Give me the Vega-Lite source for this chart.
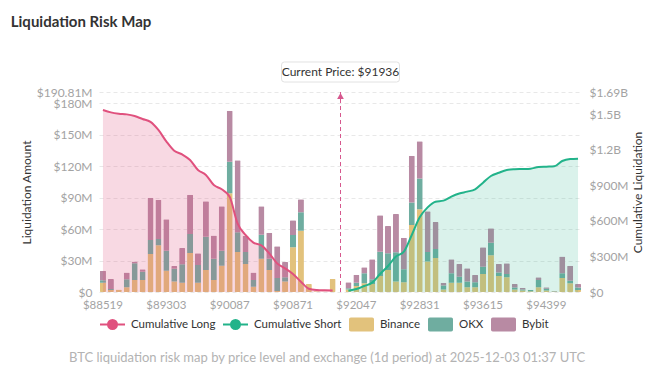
{
  "$schema": "https://vega.github.io/schema/vega-lite/v6.json",
  "background": "#ffffff",
  "padding": {"left": 10, "top": 14, "right": 12, "bottom": 16},
  "config": {
    "font": "Lato",
    "view": {"stroke": null},
    "axis": {"labelFont": "Lato", "titleFont": "Lato", "labelColor": "#a3a3a3", "labelFontSize": 12, "titleFontSize": 12, "titleColor": "#333333", "titleFontWeight": "normal", "ticks": false, "domain": false},
    "legend": {"orient": "bottom", "direction": "horizontal", "title": null, "labelFontSize": 11.5, "labelColor": "#333333", "labelFont": "Lato", "symbolSize": 625, "columnPadding": 3, "labelOffset": 5, "offset": 0, "padding": 0, "gridAlign": "none"}
  },
  "title": {"text": "BTC liquidation risk map by price level and exchange (1d period) at 2025-12-03 01:37 UTC", "orient": "bottom", "anchor": "middle", "fontSize": 13, "fontWeight": "normal", "color": "#b3b3b3", "font": "Lato", "offset": 16},
  "datasets": {
    "ranks": [
      {"exchange": "Binance", "rank": 1},
      {"exchange": "OKX", "rank": 2},
      {"exchange": "Bybit", "rank": 3}
    ],
    "liq": [
      {"p": "$88519", "Binance": 8.9, "OKX": 2.2, "Bybit": 9.2, "long": 1538},
      {"p": "$88617", "Binance": 1.9, "OKX": 1.0, "Bybit": 9.5, "long": 1518},
      {"p": "$88715", "Binance": 2.5, "OKX": 0, "Bybit": 0, "long": 1507},
      {"p": "$88813", "Binance": 4.5, "OKX": 7.6, "Bybit": 6.4, "long": 1501},
      {"p": "$88911", "Binance": 11.4, "OKX": 16.0, "Bybit": 1.6, "long": 1487},
      {"p": "$89009", "Binance": 11.4, "OKX": 8.0, "Bybit": 2.2, "long": 1462},
      {"p": "$89107", "Binance": 36.2, "OKX": 13.4, "Bybit": 40.4, "long": 1437},
      {"p": "$89205", "Binance": 44.5, "OKX": 6.0, "Bybit": 37.5, "long": 1369},
      {"p": "$89303", "Binance": 20.3, "OKX": 19.0, "Bybit": 30.2, "long": 1273},
      {"p": "$89401", "Binance": 9.9, "OKX": 12.4, "Bybit": 2.5, "long": 1194},
      {"p": "$89499", "Binance": 8.9, "OKX": 17.5, "Bybit": 15.6, "long": 1163},
      {"p": "$89597", "Binance": 37.2, "OKX": 18.1, "Bybit": 37.5, "long": 1115},
      {"p": "$89695", "Binance": 8.9, "OKX": 16.9, "Bybit": 11.1, "long": 1031},
      {"p": "$89793", "Binance": 21.0, "OKX": 31.8, "Bybit": 33.7, "long": 989},
      {"p": "$89891", "Binance": 11.4, "OKX": 20.3, "Bybit": 22.3, "long": 904},
      {"p": "$89989", "Binance": 25.0, "OKX": 14.3, "Bybit": 42.6, "long": 868},
      {"p": "$90087", "Binance": 94.1, "OKX": 30.2, "Bybit": 48.6, "long": 805},
      {"p": "$90185", "Binance": 38.2, "OKX": 18.8, "Bybit": 68.7, "long": 580},
      {"p": "$90283", "Binance": 26.7, "OKX": 11.4, "Bybit": 15.3, "long": 482},
      {"p": "$90381", "Binance": 5.1, "OKX": 6.4, "Bybit": 7.0, "long": 417},
      {"p": "$90479", "Binance": 31.8, "OKX": 22.9, "Bybit": 27.0, "long": 394},
      {"p": "$90577", "Binance": 21.0, "OKX": 10.8, "Bybit": 24.8, "long": 327},
      {"p": "$90675", "Binance": 1.0, "OKX": 12.4, "Bybit": 30.2, "long": 242},
      {"p": "$90773", "Binance": 9.9, "OKX": 4.1, "Bybit": 14.6, "long": 200},
      {"p": "$90871", "Binance": 42.6, "OKX": 11.8, "Bybit": 14.0, "long": 152},
      {"p": "$90969", "Binance": 58.5, "OKX": 17.5, "Bybit": 12.4, "long": 87},
      {"p": "$91067", "Binance": 7.6, "OKX": 0, "Bybit": 0, "long": 28},
      {"p": "$91165", "Binance": 0.8, "OKX": 0, "Bybit": 0, "long": 17},
      {"p": "$91263", "Binance": 0.5, "OKX": 0, "Bybit": 0, "long": 14},
      {"p": "$91361", "Binance": 12.4, "OKX": 0, "Bybit": 0, "long": 13},
      {"p": "$91936", "Binance": 0, "OKX": 0, "Bybit": 0},
      {"p": "$91949", "Binance": 2.5, "OKX": 1.0, "Bybit": 5.7, "short": 11},
      {"p": "$92047", "Binance": 5.7, "OKX": 3.2, "Bybit": 7.6, "short": 25},
      {"p": "$92145", "Binance": 8.3, "OKX": 9.5, "Bybit": 5.7, "short": 51},
      {"p": "$92243", "Binance": 7.6, "OKX": 4.5, "Bybit": 19.1, "short": 79},
      {"p": "$92341", "Binance": 15.3, "OKX": 23.2, "Bybit": 34.7, "short": 152},
      {"p": "$92439", "Binance": 21.0, "OKX": 15.9, "Bybit": 26.0, "short": 220},
      {"p": "$92537", "Binance": 9.9, "OKX": 28.0, "Bybit": 36.6, "short": 299},
      {"p": "$92635", "Binance": 9.2, "OKX": 12.4, "Bybit": 30.2, "short": 341},
      {"p": "$92733", "Binance": 63.9, "OKX": 21.6, "Bybit": 44.5, "short": 482},
      {"p": "$92831", "Binance": 78.9, "OKX": 29.3, "Bybit": 35.6, "short": 631},
      {"p": "$92929", "Binance": 29.0, "OKX": 9.2, "Bybit": 38.8, "short": 715},
      {"p": "$93027", "Binance": 32.4, "OKX": 8.6, "Bybit": 25.8, "short": 763},
      {"p": "$93125", "Binance": 2.5, "OKX": 3.8, "Bybit": 2.5, "short": 772},
      {"p": "$93223", "Binance": 8.9, "OKX": 8.9, "Bybit": 13.4, "short": 806},
      {"p": "$93321", "Binance": 8.9, "OKX": 5.7, "Bybit": 12.1, "short": 832},
      {"p": "$93419", "Binance": 4.5, "OKX": 5.4, "Bybit": 12.7, "short": 848},
      {"p": "$93517", "Binance": 4.5, "OKX": 4.8, "Bybit": 7.0, "short": 868},
      {"p": "$93615", "Binance": 17.2, "OKX": 7.0, "Bybit": 18.4, "short": 924},
      {"p": "$93713", "Binance": 35.0, "OKX": 12.1, "Bybit": 13.7, "short": 980},
      {"p": "$93811", "Binance": 15.3, "OKX": 3.2, "Bybit": 8.3, "short": 1008},
      {"p": "$93909", "Binance": 14.0, "OKX": 3.2, "Bybit": 10.2, "short": 1031},
      {"p": "$94007", "Binance": 2.5, "OKX": 1.9, "Bybit": 3.2, "short": 1037},
      {"p": "$94105", "Binance": 1.5, "OKX": 1.0, "Bybit": 1.6, "short": 1039},
      {"p": "$94203", "Binance": 0.7, "OKX": 1.5, "Bybit": 0, "short": 1042},
      {"p": "$94301", "Binance": 4.5, "OKX": 7.0, "Bybit": 2.5, "short": 1056},
      {"p": "$94399", "Binance": 1.5, "OKX": 1.5, "Bybit": 1.5, "short": 1059},
      {"p": "$94497", "Binance": 0.5, "OKX": 0.3, "Bybit": 0.2, "short": 1062},
      {"p": "$94595", "Binance": 13.4, "OKX": 4.5, "Bybit": 15.9, "short": 1107},
      {"p": "$94693", "Binance": 8.3, "OKX": 2.5, "Bybit": 14.3, "short": 1124},
      {"p": "$94791", "Binance": 1.9, "OKX": 2.5, "Bybit": 3.2, "short": 1127}
    ]
  },
  "vconcat": [
    {
      "title": {"text": "Liquidation Risk Map", "anchor": "start", "frame": "bounds", "fontSize": 15, "fontWeight": "bold", "color": "#333333", "font": "Lato", "offset": 30, "dx": -10},
      "width": 483,
      "height": 200,
      "data": {"name": "liq"},
      "layer": [
        {
          "layer": [
            {
              "transform": [
                {"fold": ["Binance", "OKX", "Bybit"], "as": ["exchange", "amount"]},
                {"lookup": "exchange", "from": {"data": {"name": "ranks"}, "key": "exchange", "fields": ["rank"]}}
              ],
              "mark": {"type": "bar", "cornerRadius": 1},
              "encoding": {
                "x": {"field": "p", "type": "ordinal", "scale": {"paddingInner": 0.24, "paddingOuter": 0.12},
                  "axis": {"title": null, "values": ["$88519", "$89303", "$90087", "$90871", "$92047", "$92831", "$93615", "$94399"], "labelAngle": 0, "labelPadding": 7, "labelFontSize": 11.5, "grid": false}},
                "y": {"field": "amount", "type": "quantitative", "stack": "zero", "scale": {"domain": [0, 190.81], "nice": false},
                  "axis": {"title": "Liquidation Amount", "values": [0, 30, 60, 90, 120, 150, 180, 190.81], "tickCount": 20, "labelExpr": "datum.value === 0 ? '$0' : '$' + datum.value + 'M'", "labelOverlap": false, "labelFlush": false, "labelPadding": 7, "titlePadding": 2.5, "grid": true, "gridDash": [4, 3], "gridColor": "#e8e8e8"}},
                "order": {"field": "rank", "type": "quantitative", "sort": "ascending"},
                "color": {"field": "exchange", "type": "nominal",
                  "scale": {"domain": ["Cumulative Long", "Cumulative Short", "Binance", "OKX", "Bybit"], "range": ["#e0517e", "#22b38a", "#e2c27c", "#6fada0", "#b88aa3"]},
                  "legend": {"encode": {"symbols": {"update": {
                    "shape": {"signal": "indexof(datum.value, 'Cumulative') === 0 ? 'M-1,0H-0.36M0.36,0H1M-0.36,0A0.36,0.36,0,1,1,0.36,0A0.36,0.36,0,1,1,-0.36,0Z' : 'M-0.86,-0.56H0.86Q1,-0.56,1,-0.42V0.42Q1,0.56,0.86,0.56H-0.86Q-1,0.56,-1,0.42V-0.42Q-1,-0.56,-0.86,-0.56Z'"},
                    "fill": {"signal": "indexof(datum.value, 'Cumulative') === 0 ? '#ffffff' : scale('color', datum.value)"},
                    "stroke": {"signal": "indexof(datum.value, 'Cumulative') === 0 ? scale('color', datum.value) : 'transparent'"},
                    "strokeWidth": {"value": 2},
                    "opacity": {"value": 1}
                  }}}}}
              }
            },
            {
              "data": {"values": [{"label": "Current Price: $91936"}]},
              "mark": {"type": "rule", "strokeDash": [4, 3], "color": "#d6588e", "strokeWidth": 1},
              "encoding": {"x": {"datum": "$91936", "type": "ordinal"}}
            },
            {
              "data": {"values": [{"label": "Current Price: $91936"}]},
              "mark": {"type": "point", "shape": "triangle-up", "filled": true, "size": 45, "color": "#d6588e", "opacity": 1, "yOffset": 4},
              "encoding": {"x": {"datum": "$91936", "type": "ordinal"}, "y": {"datum": 190.81, "type": "quantitative"}}
            },
            {
              "data": {"values": [{"label": "Current Price: $91936"}]},
              "mark": {"type": "point", "shape": "M-0.95,-0.17H0.95Q1,-0.17,1,-0.12V0.12Q1,0.17,0.95,0.17H-0.95Q-1,0.17,-1,0.12V-0.12Q-1,-0.17,-0.95,-0.17Z", "size": 13924, "filled": true, "fill": "#ffffff", "stroke": "#e2e2e2", "strokeWidth": 1, "opacity": 1, "yOffset": -20},
              "encoding": {"x": {"datum": "$91936", "type": "ordinal"}, "y": {"datum": 190.81, "type": "quantitative"}}
            },
            {
              "data": {"values": [{"label": "Current Price: $91936"}]},
              "mark": {"type": "text", "fontSize": 12, "color": "#333333", "font": "Lato", "yOffset": -20},
              "encoding": {"x": {"datum": "$91936", "type": "ordinal"}, "y": {"datum": 190.81, "type": "quantitative"}, "text": {"field": "label"}}
            }
          ]
        },
        {
          "layer": [
            {
              "transform": [{"filter": "datum.long != null"}],
              "mark": {"type": "area", "interpolate": "monotone", "color": "#e0517e", "opacity": 0.22},
              "encoding": {
                "x": {"field": "p", "type": "ordinal"},
                "y": {"field": "long", "type": "quantitative", "scale": {"domain": [0, 1690], "nice": false},
                  "axis": {"orient": "right", "title": "Cumulative Liquidation", "values": [0, 300, 600, 900, 1200, 1500, 1690], "tickCount": 20, "labelExpr": "datum.value === 0 ? '$0' : (datum.value >= 1000 ? '$' + (datum.value / 1000) + 'B' : '$' + datum.value + 'M')", "grid": false, "labelOverlap": false, "labelFlush": false, "labelPadding": 7, "titlePadding": 16.5, "titleAngle": 270}}
              }
            },
            {
              "transform": [{"filter": "datum.short != null"}],
              "mark": {"type": "area", "interpolate": "monotone", "color": "#22b38a", "opacity": 0.17},
              "encoding": {"x": {"field": "p", "type": "ordinal"}, "y": {"field": "short", "type": "quantitative"}}
            },
            {
              "transform": [{"filter": "datum.long != null"}],
              "mark": {"type": "line", "interpolate": "monotone", "color": "#e0517e", "strokeWidth": 2},
              "encoding": {"x": {"field": "p", "type": "ordinal"}, "y": {"field": "long", "type": "quantitative"}}
            },
            {
              "transform": [{"filter": "datum.short != null"}],
              "mark": {"type": "line", "interpolate": "monotone", "color": "#22b38a", "strokeWidth": 2},
              "encoding": {"x": {"field": "p", "type": "ordinal"}, "y": {"field": "short", "type": "quantitative"}}
            }
          ]
        }
      ],
      "resolve": {"scale": {"y": "independent"}}
    }
  ]
}
